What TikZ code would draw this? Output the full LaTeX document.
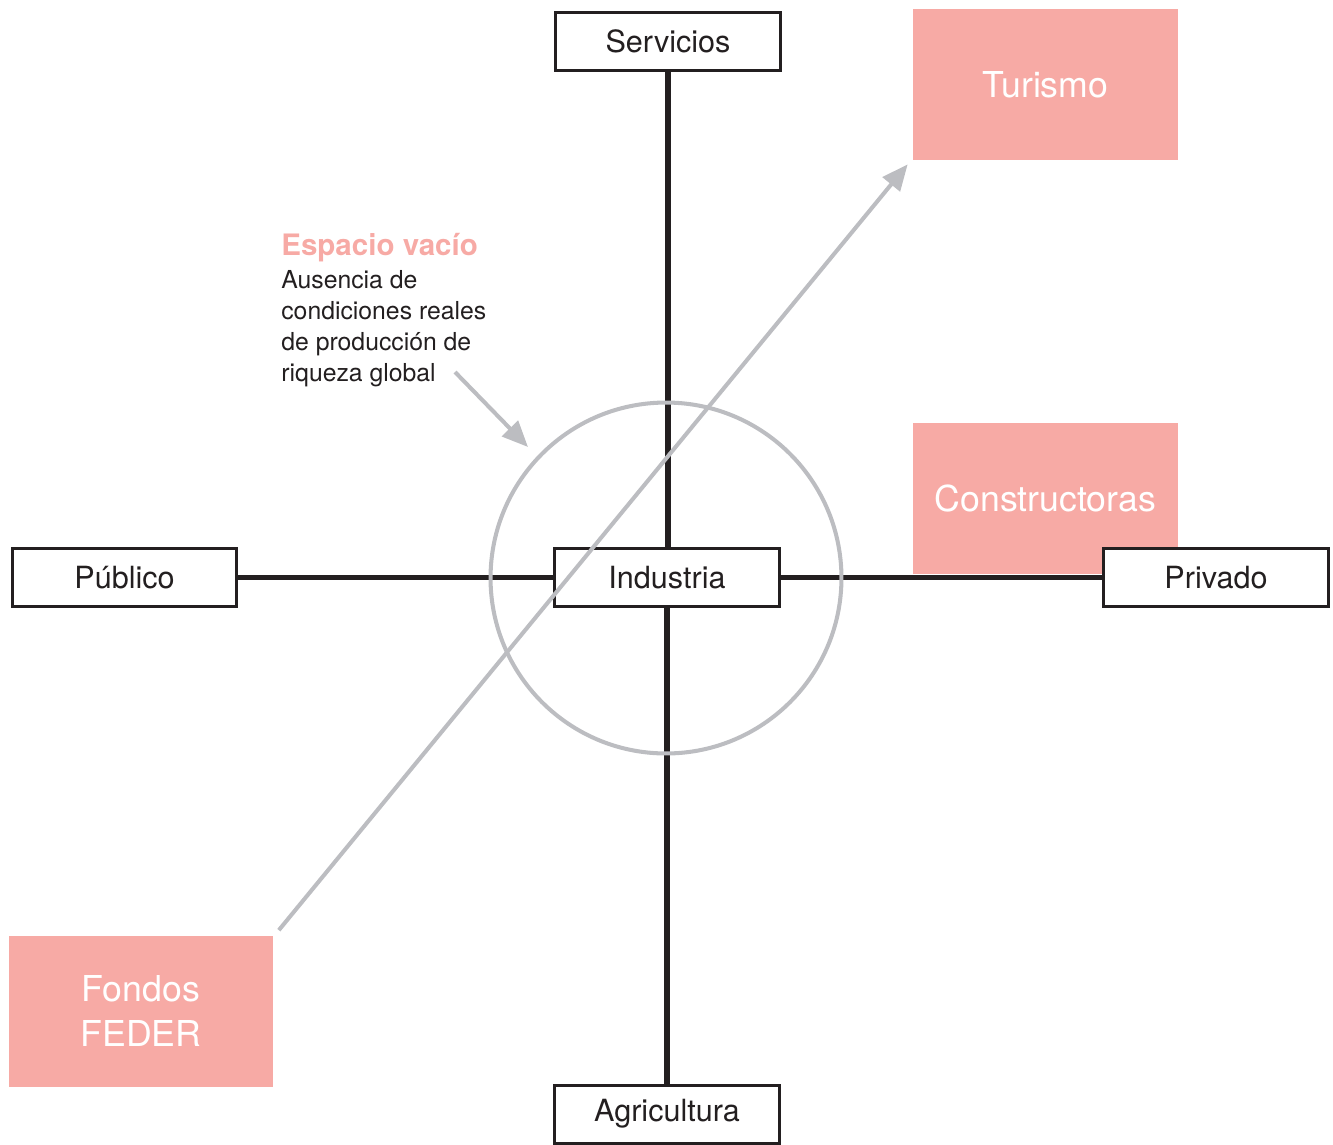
\documentclass[tikz,border=0pt]{standalone}
\usepackage{fontspec}
\setmainfont{TeX Gyre Heros}
\usetikzlibrary{arrows.meta}
\definecolor{rosa}{HTML}{F7AAA5}
\definecolor{gris}{HTML}{BCBDC1}
\definecolor{negro}{HTML}{231F20}

\begin{document}
\begin{tikzpicture}[x=0.02cm,y=-0.02cm,
  caja/.style={draw=negro,line width=1.7pt,fill=white,minimum width=4.5cm,minimum height=1.16cm,inner sep=0pt,text=negro,font=\fontsize{17.4}{20}\selectfont},
  sector/.style={fill=rosa,minimum width=5.3cm,minimum height=3.02cm,inner sep=0pt,text=white,align=center,font=\fontsize{20.3}{25.6}\selectfont},
  eje/.style={draw=negro,line width=3.4pt},
  flecha/.style={draw=gris,line width=2.3pt,-{Triangle[length=0.52cm,width=0.44cm]}}]
\useasboundingbox (0,0) rectangle (1333,1144);
% sectores
\node[sector] (turismo) at (1045.5,84.5) {Turismo};
\node[sector] (constructoras) at (1045.5,498.5) {Constructoras};
\node[sector] (fondos) at (141,1011) {Fondos\\FEDER};
% ejes
\node[caja] (servicios) at (668,41.5) {Servicios};
\node[caja] (industria) at (667,577.5) {Industria};
\node[caja] (agricultura) at (667,1114) {Agricultura};
\node[caja] (publico) at (124.5,577.5) {Público};
\node[caja] (privado) at (1216,577.5) {Privado};
\draw[eje] (servicios) -- (servicios |- industria.north);
\draw[eje] (industria) -- (agricultura);
\draw[eje] (publico) -- (industria);
\draw[eje] (industria) -- (privado);
% espacio vacio
\node[draw=gris,line width=2.3pt,circle,minimum size=7.02cm,inner sep=0pt] (vacio) at (666,578) {};
\draw[flecha] ([shift={(5,-5)}]fondos.north east) -- ([shift={(-5,4)}]turismo.south west);
\node[anchor=base west,inner sep=0pt,text=rosa,font=\bfseries\fontsize{16.8}{19}\selectfont] (titulo) at (281,255) {Espacio vacío};
\node[anchor=north west,inner sep=0pt,align=left,text=negro,font=\fontsize{14.1}{17.6}\selectfont] (ausencia) at (281,270) {Ausencia de\\condiciones reales\\de producción de\\riqueza global};
\coordinate (nota) at (455,372);
\coordinate (borde) at (528,447);
\draw[flecha] (nota) -- (borde);
\end{tikzpicture}
\end{document}
